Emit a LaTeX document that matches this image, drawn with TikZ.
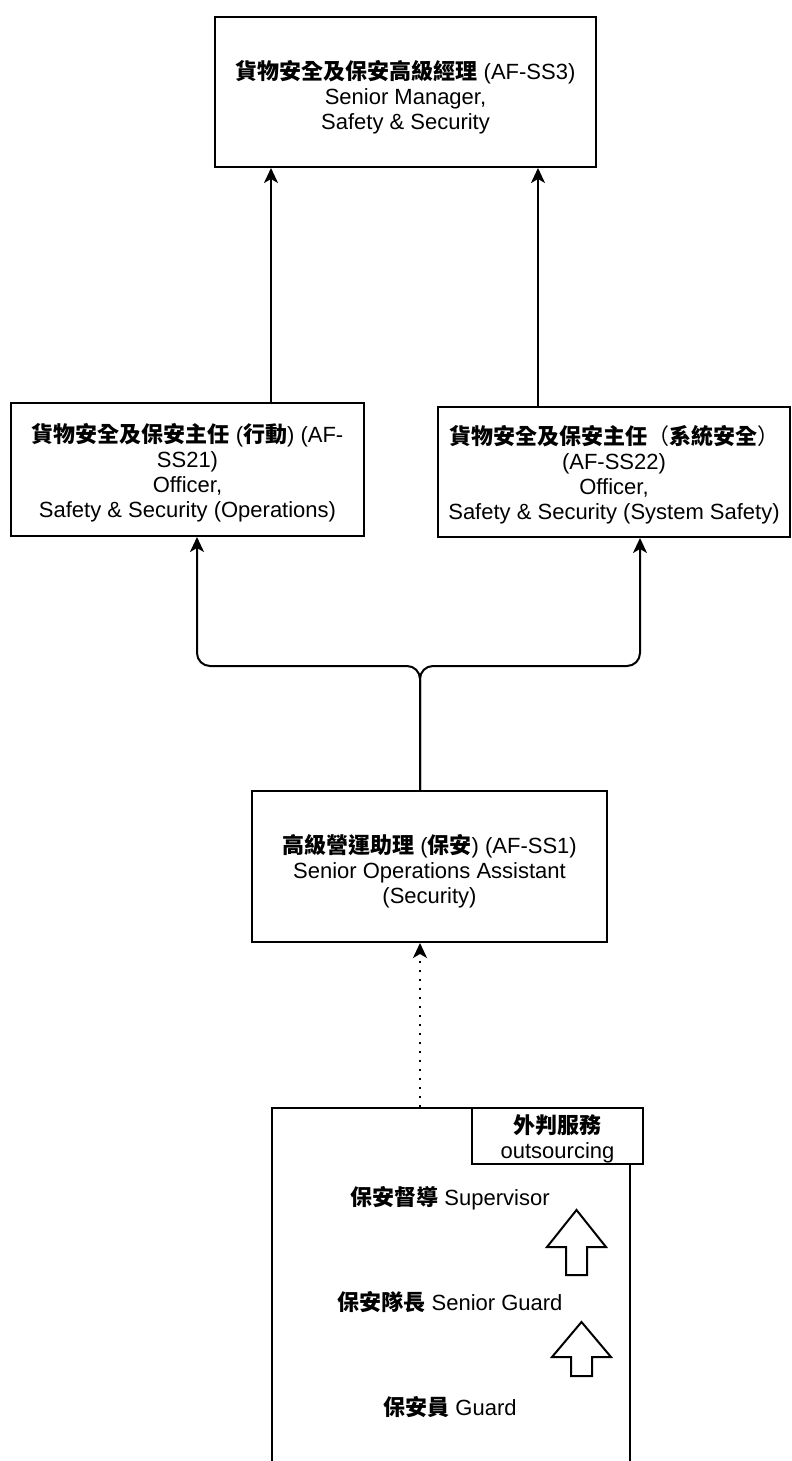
\documentclass[tikz,border=0pt]{standalone}
\usepackage{fontspec}
\setmainfont{Liberation Sans}
\newfontfamily\cjk{Noto Sans CJK TC}
\newcommand\zh[1]{{\cjk\bfseries #1}}
\newcommand\zr[1]{{\cjk #1}}
\usetikzlibrary{arrows.meta}
\begin{document}
\begin{tikzpicture}[x=1pt,y=-1pt,
  every node/.style={font=\fontsize{22}{25}\selectfont, align=center, inner sep=0pt},
  box/.style={draw, line width=2pt, fill=white},
  arr/.style={line width=2pt, -{Stealth[length=15pt,width=14pt,inset=4pt]}},
  dotarr/.style={arr, dash pattern=on 2pt off 7pt},
  blockarrow/.style={draw, line width=2pt, fill=white, line join=miter}]
\useasboundingbox (0,0) rectangle (792,1461);
\clip (0,0) rectangle (792,1461);
\fill[white] (0,0) rectangle (792,1461);

% boxes
\node[box, minimum width=381pt, minimum height=150pt] (top) at (405.5,92) {};
\node (toptxt) at (405.5,97) {\zh{貨物安全及保安高級經理} (AF-SS3)\\Senior Manager,\\Safety \& Security};

\node[box, minimum width=353pt, minimum height=133pt] (lbox) at (187.5,469.5) {};
\node (ltxt) at (187.5,473) {\zh{貨物安全及保安主任} (\zh{行動}) (AF-\\SS21)\\Officer,\\Safety \& Security (Operations)};

\node[box, minimum width=352pt, minimum height=130pt] (rbox) at (614,472) {};
\node (rtxt) at (614,474.5) {\zh{貨物安全及保安主任}\zr{（}\zh{系統安全}\zr{）}\\(AF-SS22)\\Officer,\\Safety \& Security (System Safety)};

\node[box, minimum width=355pt, minimum height=151pt] (mid) at (429.5,866.5) {};
\node (mtxt) at (429.5,871) {\zh{高級營運助理} (\zh{保安}) (AF-SS1)\\Senior Operations Assistant\\(Security)};

\node[box, minimum width=358pt, minimum height=372pt] (out) at (451,1294) {};
\node[box, minimum width=171pt, minimum height=56pt] (lab) at (557.5,1136) {};
\node (labtxt) at (557.5,1139) {\zh{外判服務}\\outsourcing};

\node (sup) at (450,1198) {\zh{保安督導} Supervisor};
\node (sg) at (450,1302) {\zh{保安隊長} Senior Guard};
\node (g) at (450,1407) {\zh{保安員} Guard};

% block arrows
\draw[blockarrow] (547,1247) -- (576.5,1210) -- (606,1247) -- (587,1247) -- (587,1275) -- (566,1275) -- (566,1247) -- cycle;
\draw[blockarrow] (552,1357) -- (581.5,1322) -- (611,1357) -- (592,1357) -- (592,1376) -- (571,1376) -- (571,1357) -- cycle;

% connectors
\coordinate (a1) at (271,0);
\coordinate (a2) at (538,0);
\draw[arr] (a1 |- lbox.north) -- (a1 |- top.south);
\draw[arr] (a2 |- rbox.north) -- (a2 |- top.south);

\coordinate (j) at (420,666);
\coordinate (bl) at (197,666);
\coordinate (br) at (640,666);
\draw[arr, rounded corners=13pt] (j |- mid.north) -- (j) -- (bl) -- (bl |- lbox.south);
\draw[arr, rounded corners=13pt] (j |- mid.north) -- (j) -- (br) -- (br |- rbox.south);

\draw[dotarr] (j |- out.north) -- (j |- mid.south);
\end{tikzpicture}
\end{document}
